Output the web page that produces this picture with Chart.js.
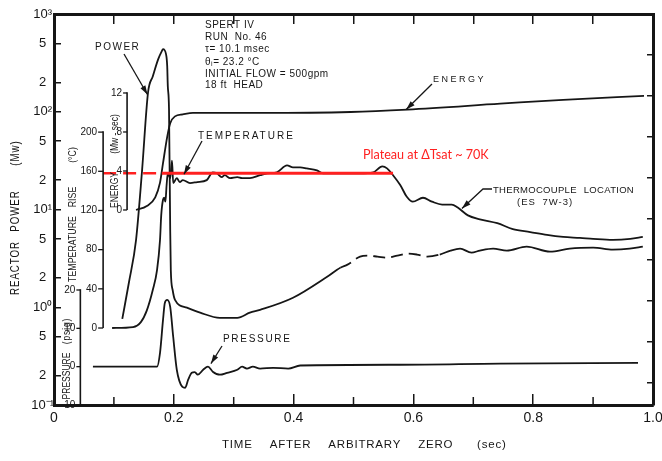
<!DOCTYPE html>
<html>
<head>
<meta charset="utf-8">
<title>SPERT IV Run 46</title>
<script src="https://cdn.jsdelivr.net/npm/chart.js@4.4.1/dist/chart.umd.min.js"></script>
<style>
  html, body { margin: 0; padding: 0; background: #fff; }
  canvas { display: block; }
</style>
</head>
<body>
<canvas id="runChart" width="662" height="461"></canvas>
<script>
// time axis (sec after arbitrary zero)
const xTicks = [0, 0.2, 0.4, 0.6, 0.8, 1.0];
const xTickLabels = ['0', '0.2', '0.4', '0.6', '0.8', '1.0'];
const xMinorTicks = [0.1, 0.3, 0.5, 0.7, 0.9];
const xTopTicks = [0, 0.1, 0.2, 0.3, 0.4, 0.5, 0.6, 0.7, 0.8, 0.9, 1.0];

// reactor power axis (log, Mw)
const powerTicks = [0.1, 0.2, 0.5, 1, 2, 5, 10, 20, 50, 100, 200, 500, 1000];
const powerTickLabels = ['10\u207B\u00B9', '2', '5', '10\u2070', '2', '5', '10\u00B9', '2', '5', '10\u00B2', '2', '5', '10\u00B3'];

// inset axes
const energyTicks = [0, 4, 8, 12];
const tempTicks = [0, 40, 80, 120, 160, 200];
const pressTicks = [-10, 0, 10, 20];
const rightTicks = [0, 1, 2, 3, 4, 5, 6, 7, 8];

// reactor power (Mw)
const powerT = [0.114, 0.125, 0.137, 0.147, 0.157, 0.165, 0.174, 0.18, 0.182, 0.187, 0.189, 0.19, 0.192, 0.194, 0.195, 0.198, 0.202,
  0.222, 0.244, 0.277, 0.306, 0.327, 0.344, 0.399, 0.456, 0.478, 0.49, 0.511, 0.523, 0.54, 0.556, 0.573, 0.59, 0.606, 0.623,
  0.644, 0.662, 0.678, 0.697, 0.711, 0.733, 0.756, 0.789, 0.828, 0.861, 0.9, 0.933, 0.961, 0.983];
const powerMw = [0.76, 1.78, 4.9, 25, 158, 231, 345, 417, 437, 389, 293, 182, 106, 6.2, 2.4, 1.51, 1.19,
  0.99, 0.88, 0.78, 0.78, 0.88, 0.94, 1.25, 2.05, 2.54, 2.73, 3.3, 3.37, 3.3, 3.22, 3.37, 3.54, 3.46, 3.3,
  3.46, 3.8, 3.98, 3.62, 3.8, 3.98, 3.8, 4.18, 3.71, 3.98, 4.07, 3.89, 3.98, 4.18];

// energy (Mw-sec)
const energyT = [0.137, 0.155, 0.169, 0.177, 0.182, 0.189, 0.194, 0.202, 0.215, 0.232, 0.345, 0.495, 0.59, 0.745, 0.85, 0.985];
const energyMwSec = [0, 0.4, 1.3, 2.8, 4.8, 7.5, 8.9, 9.6, 9.8, 9.95, 9.95, 10.05, 10.3, 10.9, 11.3, 11.7];

// thermocouple temperature rise (deg C), ES 7W-3
const tempT = [0.097, 0.132, 0.145, 0.155, 0.165, 0.172, 0.177, 0.179, 0.182, 0.184, 0.186, 0.188, 0.19, 0.194, 0.197, 0.199,
  0.205, 0.21, 0.215, 0.227, 0.239, 0.255, 0.265, 0.272, 0.28, 0.285, 0.294, 0.306, 0.314, 0.327, 0.344, 0.356, 0.372,
  0.389, 0.399, 0.411, 0.422, 0.439, 0.449, 0.466, 0.489, 0.511, 0.533, 0.548, 0.556, 0.566, 0.578, 0.589, 0.599, 0.616,
  0.631, 0.648, 0.664, 0.674, 0.691, 0.711, 0.74, 0.766, 0.795, 0.823, 0.85, 0.878, 0.9, 0.933, 0.962, 0.983];
const tempRiseC = [0, 1, 6, 18, 39, 59, 90, 115, 131, 133, 129, 146, 158, 153, 171, 148,
  153, 149, 151, 148, 149, 151, 159, 158, 154, 156, 153, 154, 153, 153, 156, 158, 159,
  166, 164, 164, 163, 161, 158, 158, 158, 158, 159, 165, 163, 156, 146, 134, 129, 133,
  129, 126, 126, 123, 115, 111, 107, 101, 98, 95, 93, 92, 91, 90, 91, 93];

// pressure (psig)
const pressT = [0.065, 0.172, 0.177, 0.182, 0.185, 0.189, 0.194, 0.199, 0.205, 0.214, 0.219, 0.224, 0.23, 0.235, 0.24,
  0.249, 0.257, 0.265, 0.277, 0.289, 0.306, 0.314, 0.322, 0.332, 0.344, 0.366, 0.391, 0.411, 0.578, 0.745, 0.975];
const pressPsig = [0, 0, 3.6, 12.2, 16.6, 17.4, 15.6, 7.8, -0.8, -5.2, -5.5, -3.4, -1.6, -1.4, -2.1,
  -0.8, 0, -1.3, -2.1, -1.6, -0.8, 0, -0.5, 0, -0.5, -0.3, -0.5, 0.3, 0.5, 0.8, 1.0];

// plateau marker (deg C)
const plateauRise = 158;
const plateauDashT = [0.082, 0.18];
const plateauT = [0.18, 0.566];

const INK = '#161616';
const RED = '#ff2020';
const FONT = '"Liberation Sans", Arial, sans-serif';

const pairs = (xs, ys) => xs.map((x, i) => ({ x: x, y: ys[i] }));

function text(ctx, str, x, y, o = {}) {
  ctx.save();
  ctx.font = (o.size || 10) + 'px ' + (o.family || FONT);
  ctx.letterSpacing = (o.ls || 0) + 'px';
  ctx.wordSpacing = (o.ws || 0) + 'px';
  ctx.fillStyle = o.color || INK;
  ctx.textAlign = o.align || 'left';
  ctx.textBaseline = 'middle';
  ctx.translate(x, y);
  if (o.rot) ctx.rotate(o.rot);
  if (o.sx) ctx.scale(o.sx, 1);
  ctx.fillText(str, 0, 0);
  ctx.restore();
}

function arrow(ctx, pts) {
  ctx.save();
  ctx.strokeStyle = INK;
  ctx.fillStyle = INK;
  ctx.lineWidth = 1.3;
  ctx.beginPath();
  pts.forEach((p, i) => i ? ctx.lineTo(p[0], p[1]) : ctx.moveTo(p[0], p[1]));
  ctx.stroke();
  const [x1, y1] = pts[pts.length - 2];
  const [x2, y2] = pts[pts.length - 1];
  const a = Math.atan2(y2 - y1, x2 - x1);
  const c = Math.cos(a), s = Math.sin(a);
  ctx.beginPath();
  ctx.moveTo(x2, y2);
  ctx.lineTo(x2 - 9 * c + 2.8 * s, y2 - 9 * s - 2.8 * c);
  ctx.lineTo(x2 - 9 * c - 2.8 * s, y2 - 9 * s + 2.8 * c);
  ctx.closePath();
  ctx.fill();
  ctx.restore();
}

// small vertical axes standing inside the plot
function insetAxis(chart, id, at, ticks, len) {
  const ctx = chart.ctx;
  const ys = chart.scales[id];
  const x = chart.scales.x.getPixelForValue(at);
  const top = ys.getPixelForValue(ticks[ticks.length - 1]);
  const bottom = ys.getPixelForValue(ticks[0]);
  ctx.save();
  ctx.strokeStyle = INK;
  ctx.lineWidth = 1.6;
  ctx.beginPath();
  ctx.moveTo(x, top - 0.8);
  ctx.lineTo(x, bottom);
  ctx.stroke();
  ctx.lineWidth = 1.3;
  ticks.forEach(v => {
    const y = ys.getPixelForValue(v);
    ctx.beginPath();
    ctx.moveTo(x - len, y);
    ctx.lineTo(x, y);
    ctx.stroke();
    text(ctx, String(v), x - len - 1, y, { size: 10, align: 'right' });
  });
  ctx.restore();
}

const overlay = {
  id: 'overlay',
  afterDraw(chart) {
    const { ctx, scales } = chart;
    const xs = scales.x;
    const px = t => xs.getPixelForValue(t);

    // short ticks between the labelled ones on the time axis
    ctx.save();
    ctx.strokeStyle = INK;
    ctx.lineWidth = 1.5;
    xMinorTicks.forEach(t => {
      ctx.beginPath();
      ctx.moveTo(px(t), xs.top);
      ctx.lineTo(px(t), xs.top - 8);
      ctx.stroke();
    });
    ctx.restore();

    insetAxis(chart, 'yPress', 0.044, pressTicks, 4);
    insetAxis(chart, 'yTemp', 0.082, tempTicks, 5);
    insetAxis(chart, 'yEnergy', 0.122, energyTicks, 4);

    const up = -Math.PI / 2;
    // axis titles
    text(ctx, 'REACTOR', 15, 268, { size: 13, rot: up, sx: 0.75, ls: 1.2, align: 'center' });
    text(ctx, 'POWER', 15, 211, { size: 13, rot: up, sx: 0.75, ls: 1.2, align: 'center' });
    text(ctx, '(Mw)', 15, 153, { size: 13, rot: up, sx: 0.75, ls: 1.2, align: 'center' });
    text(ctx, 'TEMPERATURE', 73, 249, { size: 11, rot: up, sx: 0.8, align: 'center' });
    text(ctx, 'RISE', 73, 197, { size: 11, rot: up, sx: 0.8, align: 'center' });
    text(ctx, '(\u00B0C)', 73, 155, { size: 11, rot: up, sx: 0.8, align: 'center' });
    text(ctx, 'ENERGY', 115, 190, { size: 10, rot: up, sx: 0.85, align: 'center' });
    text(ctx, '(Mw - sec)', 115, 134, { size: 10, rot: up, sx: 0.85, align: 'center' });
    text(ctx, 'PRESSURE', 67, 376, { size: 10, rot: up, sx: 0.85, align: 'center' });
    text(ctx, '(psig)', 67, 331, { size: 10, rot: up, sx: 0.85, ls: 1, align: 'center' });
    text(ctx, 'TIME AFTER ARBITRARY ZERO', 222, 445, { size: 11.5, ls: 0.8, ws: 13 });
    text(ctx, '(sec)', 477, 445, { size: 11.5, ls: 0.8 });

    // run description
    const info = ['SPERT IV', 'RUN  No. 46', '\u03C4= 10.1 msec', '\u03B8\u1D62= 23.2 \u00B0C', 'INITIAL FLOW = 500gpm', '18 ft  HEAD'];
    const infoY = [25, 37, 49, 62, 74, 85];
    info.forEach((s, i) => text(ctx, s, 205, infoY[i], { size: 10, ls: 0.5 }));

    // curve labels with leader arrows
    text(ctx, 'POWER', 95, 47, { size: 10, ls: 1.5 });
    arrow(ctx, [[124, 54], [px(0.156), scales.y.getPixelForValue(150)]]);
    text(ctx, 'ENERGY', 433, 80, { size: 9, ls: 2.5 });
    arrow(ctx, [[432, 84], [px(0.588), scales.yEnergy.getPixelForValue(10.3)]]);
    text(ctx, 'TEMPERATURE', 198, 136, { size: 10, ls: 2 });
    arrow(ctx, [[202, 141], [px(0.217), scales.yTemp.getPixelForValue(157)]]);
    text(ctx, 'THERMOCOUPLE LOCATION', 493, 190, { size: 9.5, ls: 0.3, ws: 4 });
    text(ctx, '(ES 7W-3)', 517, 202, { size: 9.5, ls: 1, ws: 3 });
    arrow(ctx, [[492, 189], [483, 189], [px(0.681), scales.yTemp.getPixelForValue(122)]]);
    text(ctx, 'PRESSURE', 223, 339, { size: 10, ls: 1.7 });
    arrow(ctx, [[222, 346], [px(0.262), scales.yPress.getPixelForValue(0.8)]]);

    text(ctx, 'Plateau at \u0394Tsat ~ 70K', 363, 154, { size: 14, sx: 0.9, family: 'Lato, sans-serif', color: RED });
  }
};

const line = (data, yAxisID, extra) => Object.assign({
  data: data,
  yAxisID: yAxisID,
  borderColor: INK,
  borderWidth: 1.8,
  pointRadius: 0,
  fill: false,
  cubicInterpolationMode: 'monotone'
}, extra || {});

const fixedTicks = values => scale => { scale.ticks = values.map(v => ({ value: v })); };

new Chart(document.getElementById('runChart'), {
  type: 'line',
  data: {
    datasets: [
      line(pairs(plateauT, plateauT.map(() => plateauRise)), 'yTemp', { borderColor: RED, borderWidth: 3, cubicInterpolationMode: 'default' }),
      line(pairs(plateauDashT, plateauDashT.map(() => plateauRise)), 'yTemp', { borderColor: RED, borderWidth: 2.5, borderDash: [13, 7], cubicInterpolationMode: 'default' }),
      line(pairs(powerT, powerMw), 'y', {
        segment: {
          // broken trace while the recorder was switching range
          borderDash: c => (c.p0.parsed.x >= 0.477 && c.p1.parsed.x <= 0.65) ? [12, 6] : undefined
        }
      }),
      line(pairs(energyT, energyMwSec), 'yEnergy'),
      line(pairs(tempT, tempRiseC), 'yTemp'),
      line(pairs(pressT, pressPsig), 'yPress')
    ]
  },
  options: {
    responsive: false,
    animation: false,
    events: [],
    layout: { padding: 0 },
    plugins: { legend: { display: false }, tooltip: { enabled: false } },
    scales: {
      x: {
        type: 'linear', position: 'bottom', min: 0, max: 1,
        afterBuildTicks: fixedTicks(xTicks),
        afterFit: s => { s.height = 56; s.paddingLeft = 0; s.paddingRight = 0; },
        border: { color: INK, width: 3 },
        grid: { drawOnChartArea: false, color: INK, lineWidth: 1.5, tickLength: -11 },
        ticks: { callback: (v, i) => xTickLabels[i], color: INK, font: { size: 14, family: FONT }, padding: 16, maxRotation: 0, autoSkip: false }
      },
      xTop: {
        type: 'linear', position: 'top', min: 0, max: 1,
        afterBuildTicks: fixedTicks(xTopTicks),
        afterFit: s => { s.height = 14; s.paddingLeft = 0; s.paddingRight = 0; },
        border: { color: INK, width: 3 },
        grid: { drawOnChartArea: false, color: INK, lineWidth: 1.5, tickLength: -10 },
        ticks: { display: false }
      },
      y: {
        type: 'logarithmic', position: 'left', min: 0.1, max: 1000,
        afterBuildTicks: fixedTicks(powerTicks),
        afterFit: s => { s.width = 54; s.paddingTop = 0; s.paddingBottom = 0; },
        border: { color: INK, width: 3 },
        grid: { drawOnChartArea: false, color: INK, lineWidth: 1.5, tickLength: -7 },
        ticks: { callback: (v, i) => powerTickLabels[i], color: INK, font: { size: 13, family: FONT }, padding: 7, crossAlign: 'center', autoSkip: false }
      },
      yRight: {
        type: 'linear', position: 'right', min: -0.537, max: 8.98,
        afterBuildTicks: fixedTicks(rightTicks),
        afterFit: s => { s.width = 9; s.paddingTop = 0; s.paddingBottom = 0; },
        border: { color: INK, width: 3 },
        grid: { drawOnChartArea: false, color: INK, lineWidth: 1.5, tickLength: -6 },
        ticks: { display: false }
      },
      yEnergy: { type: 'linear', display: false, min: -20, max: 20.1 },
      yTemp: { type: 'linear', display: false, min: -78.6, max: 320.6 },
      yPress: { type: 'linear', display: false, min: -10, max: 92 }
    }
  },
  plugins: [overlay]
});
</script>
</body>
</html>
